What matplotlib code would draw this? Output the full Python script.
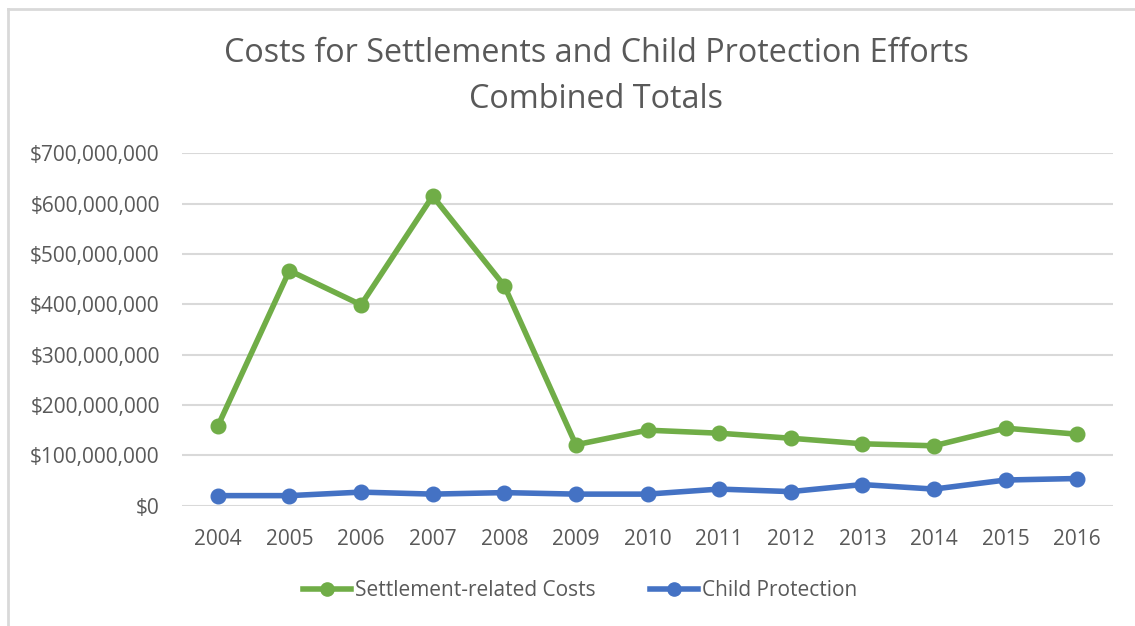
import matplotlib
matplotlib.use('Agg')
import matplotlib.pyplot as plt
from matplotlib.lines import Line2D
from matplotlib.ticker import FuncFormatter

years = ['2004', '2005', '2006', '2007', '2008', '2009', '2010',
         '2011', '2012', '2013', '2014', '2015', '2016']
settlement_costs = [158e6, 467e6, 399e6, 615e6, 437e6, 121e6, 150e6,
                    144e6, 134e6, 123e6, 119e6, 154e6, 142e6]
child_protection = [20e6, 20e6, 27e6, 23e6, 26e6, 23e6, 23e6,
                    33e6, 28e6, 42e6, 33e6, 51e6, 54e6]

green = '#70AD47'
blue = '#4472C4'
text_color = '#595959'
grid_color = '#D9D9D9'

plt.rcParams['font.family'] = ['Open Sans', 'DejaVu Sans']

fig = plt.figure(figsize=(11.35, 6.26), dpi=100)
ax = fig.add_axes([182 / 1135, 1 - 505.7 / 626, (1113 - 182) / 1135, (505.7 - 153.3) / 626])

x = range(len(years))
ax.plot(x, settlement_costs, color=green, lw=4, marker='o', ms=10.5, label='Settlement-related Costs')
ax.plot(x, child_protection, color=blue, lw=4, marker='o', ms=10.5, label='Child Protection')

ax.set_xlim(-0.5, len(years) - 0.5)
ax.set_ylim(0, 700e6)
ax.set_yticks([i * 100e6 for i in range(8)])
ax.yaxis.set_major_formatter(FuncFormatter(lambda v, p: f'${v:,.0f}'))
ax.set_xticks(list(x))
ax.set_xticklabels(years)
ax.tick_params(length=0, labelsize=15, colors=text_color)
ax.tick_params(axis='y', pad=16)
ax.tick_params(axis='x', pad=17)
ax.grid(axis='y', color=grid_color, lw=1.5)
ax.set_axisbelow(True)
for s in ax.spines.values():
    s.set_visible(False)

fig.text(596 / 1135, 1 - 54 / 626, 'Costs for Settlements and Child Protection Efforts',
         ha='center', va='center', fontsize=23.3, color=text_color)
fig.text(596 / 1135, 1 - 99 / 626, 'Combined Totals',
         ha='center', va='center', fontsize=23.3, color=text_color)

handles = [Line2D([], [], color=green, lw=4, marker='o', ms=9.5),
           Line2D([], [], color=blue, lw=4, marker='o', ms=9.5)]
fig.legend(handles, ['Settlement-related Costs', 'Child Protection'],
           loc='center', bbox_to_anchor=(580 / 1135, 1 - 591 / 626), ncol=2,
           frameon=False, fontsize=15, labelcolor=text_color,
           handlelength=2.3, handletextpad=0.2, columnspacing=2.6)

# chart border
fig.add_artist(Line2D([8 / 1135, 8 / 1135], [0, 1 - 9 / 626], transform=fig.transFigure, color=grid_color, lw=2))
fig.add_artist(Line2D([8 / 1135, 1], [1 - 9 / 626, 1 - 9 / 626], transform=fig.transFigure, color=grid_color, lw=2))

fig.savefig('out.png', dpi=100)
